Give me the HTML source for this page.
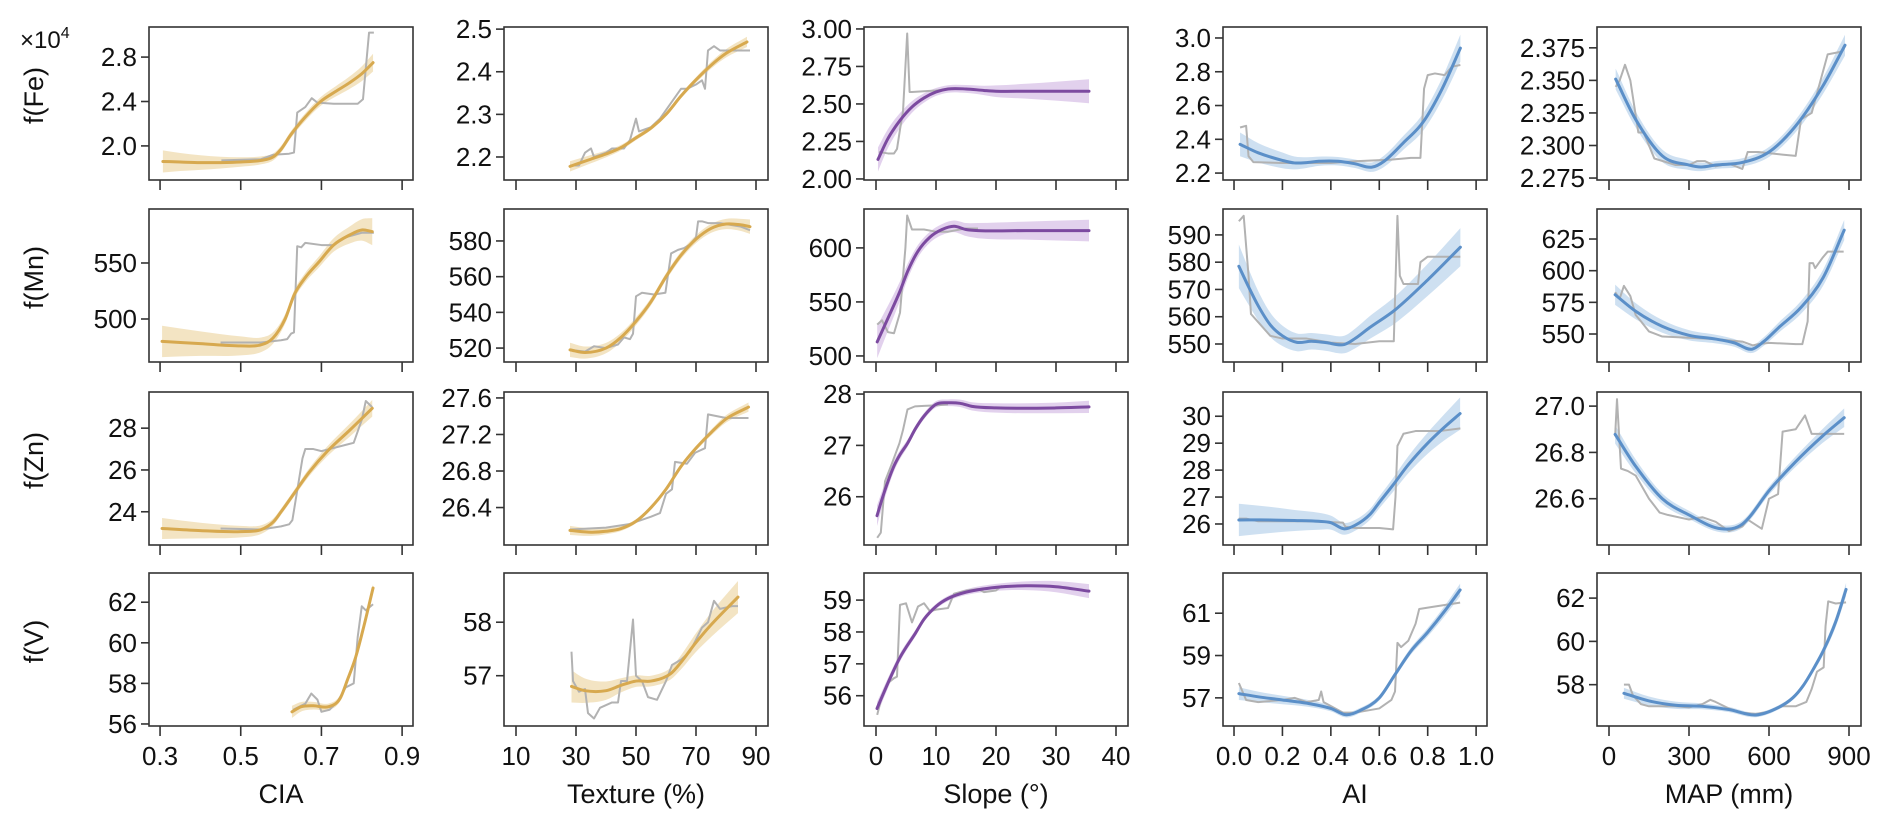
<!DOCTYPE html>
<html><head><meta charset="utf-8"><style>
html,body{margin:0;padding:0;background:#fff;}
svg{display:block;font-family:"Liberation Sans",Arial,sans-serif;}
</style></head><body>
<svg id="chart" width="1892" height="828" viewBox="0 0 1892 828" xmlns="http://www.w3.org/2000/svg"></svg>
<script>
// ---------- column x-axes ----------
const colTitles = ["CIA","Texture (%)","Slope (°)","AI","MAP (mm)"];
const rowTitles = ["f(Fe)","f(Mn)","f(Zn)","f(V)"];
const xTickVals = [[0.3,0.5,0.7,0.9],[10,30,50,70,90],[0,10,20,30,40],[0,0.2,0.4,0.6,0.8,1.0],[0,300,600,900]];
const xTickLabels = [["0.3","0.5","0.7","0.9"],["10","30","50","70","90"],["0","10","20","30","40"],["0.0","0.2","0.4","0.6","0.8","1.0"],["0","300","600","900"]];
const xDomains = [[0.2726,0.927],[6,94],[-2,42],[-0.0455,1.045],[-45,945]];
// ---------- y-axes per row ----------
const yDomains = [
 [[1.693,3.071],[2.146,2.505],[1.993,3.013],[2.159,3.065],[2.2735,2.391]],
 [[461.6,598.2],[512.2,597.9],[494.4,636],[543.4,599.5],[527.9,648.7]],
 [[22.41,29.73],[25.99,27.665],[25.06,28.04],[25.22,30.9],[26.4,27.061]],
 [[55.9,63.44],[56.06,58.92],[55.05,59.85],[55.67,62.9],[56.09,63.16]]];
const yTickVals = [
 [[2.0,2.4,2.8],[2.2,2.3,2.4,2.5],[2.0,2.25,2.5,2.75,3.0],[2.2,2.4,2.6,2.8,3.0],[2.275,2.3,2.325,2.35,2.375]],
 [[500,550],[520,540,560,580],[500,550,600],[550,560,570,580,590],[550,575,600,625]],
 [[24,26,28],[26.4,26.8,27.2,27.6],[26,27,28],[26,27,28,29,30],[26.6,26.8,27.0]],
 [[56,58,60,62],[57,58],[56,57,58,59],[57,59,61],[58,60,62]]];
const yTickLabels = [
 [["2.0","2.4","2.8"],["2.2","2.3","2.4","2.5"],["2.00","2.25","2.50","2.75","3.00"],["2.2","2.4","2.6","2.8","3.0"],["2.275","2.300","2.325","2.350","2.375"]],
 [["500","550"],["520","540","560","580"],["500","550","600"],["550","560","570","580","590"],["550","575","600","625"]],
 [["24","26","28"],["26.4","26.8","27.2","27.6"],["26","27","28"],["26","27","28","29","30"],["26.6","26.8","27.0"]],
 [["56","58","60","62"],["57","58"],["56","57","58","59"],["57","59","61"],["58","60","62"]]];
// ---------- series: smooth fit (s) and raw (g) ----------
const fe_cia_sx=[0.307,0.35,0.4,0.45,0.5,0.551,0.58,0.6,0.624,0.66,0.698,0.735,0.768,0.8,0.828];
const fe_cia_sy=[1.86,1.855,1.85,1.85,1.855,1.87,1.9,1.97,2.1,2.26,2.4,2.49,2.565,2.65,2.75];
const fe_cia_gx=[0.452,0.55,0.58,0.62,0.632,0.64,0.66,0.676,0.69,0.73,0.76,0.79,0.803,0.818,0.83];
const fe_cia_gy=[1.87,1.88,1.92,1.93,1.94,2.3,2.35,2.43,2.39,2.38,2.38,2.38,2.42,3.02,3.02];
const fe_tex_sx=[28,35,40,45,50,55,60,65,70,75,80,87];
const fe_tex_sy=[2.178,2.195,2.207,2.222,2.245,2.268,2.3,2.343,2.381,2.415,2.443,2.47];
const fe_tex_gx=[28,31,33,35,36,40,42,46,48,50,51,55,58,60,62,65,67,70,72,73,74,76,78,88];
const fe_tex_gy=[2.18,2.18,2.21,2.22,2.2,2.21,2.22,2.22,2.24,2.29,2.26,2.27,2.29,2.31,2.33,2.36,2.36,2.37,2.38,2.36,2.45,2.46,2.45,2.45];
const fe_slo_sx=[0.33,2,4,6,8,10,12,15,18,20,25,30,35.5];
const fe_slo_sy=[2.13,2.27,2.39,2.48,2.54,2.58,2.6,2.6,2.59,2.585,2.585,2.585,2.585];
const fe_slo_gx=[0.5,2,3,3.5,4,4.5,5.2,5.6,6,8,10,12,15];
const fe_slo_gy=[2.18,2.17,2.17,2.2,2.33,2.45,2.97,2.58,2.58,2.585,2.59,2.6,2.6];
const fe_ai_sx=[0.025,0.1,0.2,0.25,0.3,0.35,0.43,0.5,0.57,0.62,0.7,0.78,0.86,0.935];
const fe_ai_sy=[2.37,2.32,2.275,2.26,2.262,2.27,2.27,2.255,2.235,2.27,2.38,2.5,2.7,2.94];
const fe_ai_gx=[0.025,0.05,0.06,0.08,0.2,0.4,0.5,0.65,0.73,0.77,0.785,0.8,0.83,0.87,0.9,0.935];
const fe_ai_gy=[2.47,2.48,2.3,2.265,2.26,2.26,2.27,2.28,2.29,2.29,2.7,2.78,2.79,2.78,2.83,2.84];
const fe_map_sx=[25,100,200,300,345,400,500,600,700,800,885];
const fe_map_sy=[2.351,2.32,2.292,2.285,2.2835,2.285,2.287,2.295,2.315,2.345,2.377];
const fe_map_gx=[25,40,60,80,110,130,150,170,250,300,330,360,400,450,500,520,560,650,700,720,760,780,820,870];
const fe_map_gy=[2.345,2.35,2.362,2.35,2.31,2.31,2.3,2.29,2.285,2.285,2.288,2.288,2.284,2.286,2.282,2.295,2.295,2.293,2.292,2.32,2.325,2.34,2.37,2.372];
const mn_cia_sx=[0.305,0.4,0.5,0.551,0.58,0.61,0.633,0.66,0.694,0.73,0.77,0.8,0.826];
const mn_cia_sy=[480,478,476,477,483,500,522,537,551,566,575,579.5,578];
const mn_cia_gx=[0.45,0.55,0.6,0.615,0.625,0.632,0.64,0.65,0.66,0.7,0.73,0.76,0.8,0.83];
const mn_cia_gy=[479,479,481,482,487,488,565,564,568,566,566,573,577,577];
const mn_tex_sx=[28,33,40,45,50,55,60,65,70,75,80,85,88];
const mn_tex_sy=[519,517.5,520,526,535,546,560,572,581,587,589.5,589,588];
const mn_tex_gx=[28,33,36,40,44,46,48,49,50,52,56,59.8,61.7,64,66,68,70,70.7,72,74,78,85,88];
const mn_tex_gy=[519,518,521,520,522,526,525,528,549,551,550,551,573,575,576,578,582,591,591,590,590,588,586];
const mn_slo_sx=[0.2,2,4,5.25,7,9,11,13,15,17,25,35.5];
const mn_slo_sy=[513,535,560,578,597,610,617,620,617,616,616,616];
const mn_slo_gx=[0.2,1,2,3,4,4.9,5.2,6,8,10,12,15,17];
const mn_slo_gy=[529,533,522,521,540,600,630,617,617,615,615,618,618];
const mn_ai_sx=[0.02,0.06,0.1,0.15,0.2,0.26,0.32,0.38,0.455,0.5,0.56,0.665,0.8,0.935];
const mn_ai_sy=[578.5,571,564,557,553,550.6,551,550.5,549.8,552,556,562.5,573.5,585.5];
const mn_ai_gx=[0.02,0.04,0.06,0.07,0.1,0.15,0.2,0.3,0.4,0.5,0.6,0.66,0.675,0.685,0.7,0.76,0.77,0.8,0.935];
const mn_ai_gy=[595,597,575,561,558,553,552,552,550.5,550,551,551,597,575,572,572,580,582,582];
const mn_map_sx=[23,100,200,300,400,470,536,580,636,720,803,882];
const mn_map_sy=[581,568,556,549,546,543,538,544,555,571,594.5,632];
const mn_map_gx=[23,40,56,80,100,120,150,200,300,400,500,540,560,600,700,725,745,752,765,773,800,820,880];
const mn_map_gy=[583,578,588,580,565,560,552,548,547,546,544,541,542,543,542,542,560,606,606,602,610,615,615];
const zn_cia_sx=[0.305,0.4,0.5,0.551,0.58,0.6,0.633,0.67,0.715,0.77,0.826];
const zn_cia_sy=[23.2,23.1,23.05,23.15,23.5,24.0,24.9,25.9,26.9,27.9,28.95];
const zn_cia_gx=[0.45,0.55,0.6,0.62,0.628,0.653,0.66,0.68,0.7,0.72,0.76,0.78,0.8,0.81,0.826];
const zn_cia_gy=[23.2,23.15,23.3,23.4,23.6,26.55,27.0,27.0,26.9,27.0,27.2,27.3,28.4,29.3,29.0];
const zn_tex_sx=[28,35,40,45,50,55,60,65,70,75,80,87.5];
const zn_tex_sy=[26.15,26.13,26.14,26.17,26.25,26.4,26.6,26.85,27.05,27.22,27.37,27.5];
const zn_tex_gx=[28,40,48,55,58,60,62,63,67,69.7,73,74,80,87.5];
const zn_tex_gy=[26.16,26.18,26.22,26.3,26.34,26.55,26.6,26.9,26.88,27.0,27.05,27.42,27.38,27.38];
const zn_slo_sx=[0.17,1,2,3,4,5.25,6.6,8,10,12,14,16,20,30,35.5];
const zn_slo_sy=[25.63,25.95,26.3,26.6,26.82,27.04,27.33,27.57,27.8,27.83,27.82,27.76,27.73,27.73,27.75];
const zn_slo_gx=[0.2,0.8,1.5,2.5,3.9,4.5,5.25,6.5,8,10,12];
const zn_slo_gy=[25.2,25.3,26.3,26.6,27.04,27.3,27.7,27.76,27.77,27.78,27.8];
const zn_ai_sx=[0.02,0.15,0.25,0.35,0.4,0.455,0.5,0.563,0.6,0.657,0.72,0.8,0.87,0.934];
const zn_ai_sy=[26.15,26.15,26.13,26.1,26.05,25.82,25.95,26.37,26.8,27.45,28.2,29.0,29.6,30.1];
const zn_ai_gx=[0.02,0.05,0.1,0.3,0.45,0.46,0.5,0.6,0.657,0.667,0.675,0.7,0.75,0.85,0.935];
const zn_ai_gy=[26.2,26.2,26.1,26.1,26.05,25.9,25.85,25.85,25.8,27.0,28.9,29.35,29.45,29.45,29.55];
const zn_map_sx=[23,100,200,300,421,500,604,700,800,882];
const zn_map_sy=[26.878,26.74,26.6,26.53,26.47,26.49,26.64,26.76,26.87,26.95];
const zn_map_gx=[23,30,45,70,100,150,170,190,220,300,350,400,450,500,520,573,600,634,651,700,735,760,882];
const zn_map_gy=[26.87,27.03,26.73,26.72,26.7,26.6,26.57,26.54,26.53,26.51,26.52,26.5,26.46,26.48,26.51,26.47,26.6,26.62,26.89,26.9,26.96,26.88,26.88];
const v_cia_sx=[0.627,0.65,0.68,0.718,0.746,0.765,0.785,0.805,0.828];
const v_cia_sy=[56.6,56.85,56.9,56.85,57.25,58.2,59.3,60.8,62.7];
const v_cia_gx=[0.63,0.66,0.675,0.69,0.7,0.72,0.74,0.76,0.78,0.79,0.8,0.81,0.828];
const v_cia_gy=[56.7,57.0,57.5,57.2,56.6,56.7,57.1,57.8,58.0,60.3,61.8,61.6,61.9];
const v_tex_sx=[28.5,33,40,45,50,55,61.6,65,69.7,75,84];
const v_tex_sy=[56.8,56.72,56.72,56.82,56.9,56.9,57.04,57.25,57.6,57.95,58.47];
const v_tex_gx=[28.5,29,31,33,34,36,38,42,44,45,47,49,50,52,54,57,60,62,65,68,72,74,76,78,82,84];
const v_tex_gy=[57.45,56.9,56.7,56.75,56.3,56.2,56.4,56.5,56.5,56.9,56.9,58.05,57.0,56.9,56.6,56.55,56.9,57.2,57.3,57.45,57.9,58.0,58.4,58.25,58.3,58.3];
const v_slo_sx=[0.17,2,4,6.6,8,10,12,15,20,25,30,35.5];
const v_slo_sy=[55.6,56.4,57.2,57.97,58.4,58.8,59.05,59.25,59.4,59.45,59.42,59.28];
const v_slo_gx=[0.2,1,2,3,3.5,4,5,6,7,8,9,10,12,13,15,17,18,20,21];
const v_slo_gy=[55.4,56.0,56.4,56.55,56.6,58.85,58.9,58.3,58.8,58.9,58.65,58.7,58.75,59.2,59.3,59.35,59.25,59.3,59.45];
const v_ai_sx=[0.02,0.1,0.2,0.3,0.4,0.463,0.52,0.6,0.665,0.73,0.8,0.87,0.934];
const v_ai_sy=[57.2,57.05,56.9,56.75,56.5,56.2,56.4,57.0,58.1,59.2,60.1,61.1,62.1];
const v_ai_gx=[0.02,0.05,0.1,0.2,0.25,0.3,0.35,0.36,0.37,0.45,0.5,0.55,0.6,0.65,0.665,0.675,0.69,0.72,0.75,0.765,0.82,0.934];
const v_ai_gy=[57.7,56.9,56.8,56.9,57.0,56.8,56.9,57.3,56.8,56.3,56.3,56.4,56.5,56.9,57.3,59.6,59.4,59.7,60.5,61.2,61.3,61.5];
const v_map_sx=[56,150,250,350,450,551,636,690,728,770,805,850,889];
const v_map_sy=[57.6,57.25,57.05,57.0,56.85,56.6,56.95,57.4,57.95,58.8,59.6,60.9,62.4];
const v_map_gx=[56,75,90,120,150,250,300,350,380,400,450,500,550,600,650,700,740,760,780,805,812,822,850,889];
const v_map_gy=[58.0,58.0,57.5,57.1,57.0,57.0,56.95,57.1,57.3,57.2,56.9,56.7,56.65,56.75,57.0,57.0,57.2,57.8,58.6,58.8,60.7,61.85,61.75,61.8];
// band half-widths [start, middle, end]
const bands = [
 [[0.1,0.03,0.08],[0.012,0.005,0.012],[0.08,0.025,0.08],[0.07,0.025,0.08],[0.008,0.003,0.008]],
 [[14,4,12],[4,2,4],[15,5,10],[8,3,7],[8,3,8]],
 [[0.5,0.15,0.4],[0.05,0.02,0.05],[0.2,0.06,0.12],[0.6,0.2,0.6],[0.04,0.015,0.04]],
 [[0.3,0.15,0.2],[0.3,0.1,0.3],[0.2,0.08,0.22],[0.3,0.12,0.3],[0.25,0.1,0.3]]];
const series = [
 [[fe_cia_sx,fe_cia_sy,fe_cia_gx,fe_cia_gy],[fe_tex_sx,fe_tex_sy,fe_tex_gx,fe_tex_gy],[fe_slo_sx,fe_slo_sy,fe_slo_gx,fe_slo_gy],[fe_ai_sx,fe_ai_sy,fe_ai_gx,fe_ai_gy],[fe_map_sx,fe_map_sy,fe_map_gx,fe_map_gy]],
 [[mn_cia_sx,mn_cia_sy,mn_cia_gx,mn_cia_gy],[mn_tex_sx,mn_tex_sy,mn_tex_gx,mn_tex_gy],[mn_slo_sx,mn_slo_sy,mn_slo_gx,mn_slo_gy],[mn_ai_sx,mn_ai_sy,mn_ai_gx,mn_ai_gy],[mn_map_sx,mn_map_sy,mn_map_gx,mn_map_gy]],
 [[zn_cia_sx,zn_cia_sy,zn_cia_gx,zn_cia_gy],[zn_tex_sx,zn_tex_sy,zn_tex_gx,zn_tex_gy],[zn_slo_sx,zn_slo_sy,zn_slo_gx,zn_slo_gy],[zn_ai_sx,zn_ai_sy,zn_ai_gx,zn_ai_gy],[zn_map_sx,zn_map_sy,zn_map_gx,zn_map_gy]],
 [[v_cia_sx,v_cia_sy,v_cia_gx,v_cia_gy],[v_tex_sx,v_tex_sy,v_tex_gx,v_tex_gy],[v_slo_sx,v_slo_sy,v_slo_gx,v_slo_gy],[v_ai_sx,v_ai_sy,v_ai_gx,v_ai_gy],[v_map_sx,v_map_sy,v_map_gx,v_map_gy]]];

// ---------- layout ----------
const colLeft=[149,504,864,1223,1597], W=264, rowTop=[27,209,392,573], H=153;
const lineCol=["#d7a94f","#d7a94f","#7c4aa0","#5b8fc8","#5b8fc8"];
const bandCol=["#f1dfb8","#f1dfb8","#ddc9ea","#c5daee","#c5daee"];
const NS="http://www.w3.org/2000/svg";
const svg=document.getElementById("chart");
function mk(tag,attrs,parent){const e=document.createElementNS(NS,tag);for(const k in attrs)e.setAttribute(k,attrs[k]);(parent||svg).appendChild(e);return e;}
function hermite(pts,withMove){
  const n=pts.length,m=[];
  for(let i=0;i<n;i++){
    if(i===0)m.push((pts[1][1]-pts[0][1])/(pts[1][0]-pts[0][0]));
    else if(i===n-1)m.push((pts[n-1][1]-pts[n-2][1])/(pts[n-1][0]-pts[n-2][0]));
    else{
      const a=(pts[i][1]-pts[i-1][1])/(pts[i][0]-pts[i-1][0]);
      const b=(pts[i+1][1]-pts[i][1])/(pts[i+1][0]-pts[i][0]);
      m.push((a+b)/2);
    }
  }
  let d=withMove?("M"+pts[0][0].toFixed(2)+","+pts[0][1].toFixed(2)):"";
  for(let i=0;i<n-1;i++){
    const dx=(pts[i+1][0]-pts[i][0])/3;
    d+=" C"+(pts[i][0]+dx).toFixed(2)+","+(pts[i][1]+m[i]*dx).toFixed(2)+" "+(pts[i+1][0]-dx).toFixed(2)+","+(pts[i+1][1]-m[i+1]*dx).toFixed(2)+" "+pts[i+1][0].toFixed(2)+","+pts[i+1][1].toFixed(2);
  }
  return d;
}

for(let r=0;r<4;r++){
  for(let c=0;c<5;c++){
    const L=colLeft[c],T=rowTop[r];
    const xd=xDomains[c],yd=yDomains[r][c];
    const xs=v=>L+(v-xd[0])/(xd[1]-xd[0])*W;
    const ys=v=>T+H-(v-yd[0])/(yd[1]-yd[0])*H;
    const g=mk("g",{});
    
    
    const clipId="clip"+r+c;
    const cp=mk("clipPath",{id:clipId},g);mk("rect",{x:L,y:T,width:W,height:H},cp);
    const [sx,sy,gx,gy]=series[r][c];
    const b=bands[r][c];
    const n=sx.length;
    const up=[],lo=[],mid=[];
    for(let i=0;i<n;i++){
      const t=i/(n-1);
      const w=t<0.5?b[1]+(b[0]-b[1])*Math.pow(1-2*t,2):b[1]+(b[2]-b[1])*Math.pow(2*t-1,2);
      up.push([xs(sx[i]),ys(sy[i]+w)]);lo.push([xs(sx[i]),ys(sy[i]-w)]);mid.push([xs(sx[i]),ys(sy[i])]);
    }
    const loRev=lo.slice().reverse();
    const bandD=hermite(up,true)+" L"+loRev[0][0].toFixed(2)+","+loRev[0][1].toFixed(2)+hermite(loRev,false)+" Z";
    const band=mk("path",{d:bandD,fill:bandCol[c],"fill-opacity":"0.85",stroke:"none","clip-path":"url(#"+clipId+")"},g);
    
    
    const gp=[];for(let i=0;i<gx.length;i++)gp.push(xs(gx[i]).toFixed(2)+","+ys(gy[i]).toFixed(2));
    const raw=mk("polyline",{points:gp.join(" "),fill:"none",stroke:"#b2b2b2","stroke-width":"2","stroke-linejoin":"round","clip-path":"url(#"+clipId+")"},g);
    
    
    const fit=mk("path",{d:hermite(mid,true),fill:"none",stroke:lineCol[c],"stroke-width":"3","stroke-linecap":"round","clip-path":"url(#"+clipId+")"},g);
    
    
    const frame=mk("rect",{x:L,y:T,width:W,height:H,fill:"none",stroke:"#333","stroke-width":"1.6"},g);
    
    
    const yv=yTickVals[r][c],yl=yTickLabels[r][c];
    for(let i=0;i<yv.length;i++){
      const y=ys(yv[i]);
      const tk=mk("line",{x1:L-8,x2:L,y1:y,y2:y,stroke:"#333","stroke-width":"1.6"},g);
      
      
      const tl=mk("text",{x:L-12,y:y+9,"text-anchor":"end","font-size":"26",fill:"#111"},g);
      tl.textContent=yl[i];
      
      
    }
    const xv=xTickVals[c],xl=xTickLabels[c];
    for(let i=0;i<xv.length;i++){
      const x=xs(xv[i]);
      const tk=mk("line",{x1:x,x2:x,y1:T+H,y2:T+H+10,stroke:"#333","stroke-width":"1.6"},g);
      
      
      if(r===3){
        const tl=mk("text",{x:x,y:765,"text-anchor":"middle","font-size":"26",fill:"#111"},g);
        tl.textContent=xl[i];
        
        
      }
    }
    if(r===3){
      const xt=mk("text",{x:L+W/2,y:803,"text-anchor":"middle","font-size":"27",fill:"#111"},g);
      xt.textContent=colTitles[c];
      
      
    }
  }
  const yt=mk("text",{x:0,y:0,"text-anchor":"middle","font-size":"27",fill:"#111",transform:"translate(43,"+(rowTop[r]+H/2-8)+") rotate(-90)"});
  yt.textContent=rowTitles[r];
  
  
}
const mult=mk("text",{x:20,y:48,"font-size":"24",fill:"#111"});
mult.innerHTML='×10<tspan dy="-10" font-size="16">4</tspan>';


</script>
</body></html>
